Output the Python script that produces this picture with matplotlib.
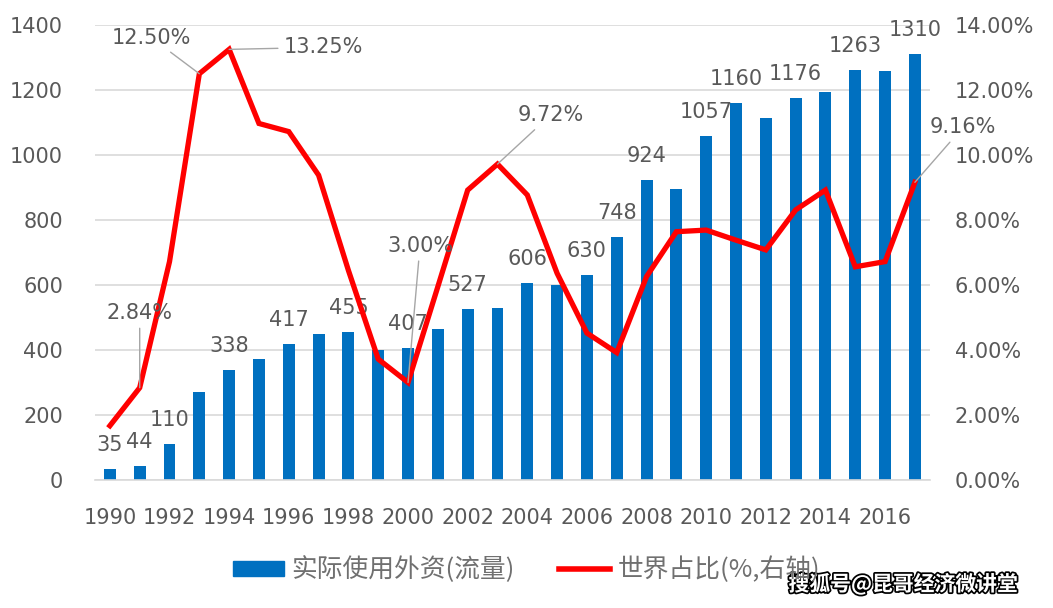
import matplotlib.pyplot as plt
import matplotlib.patheffects as pe
from matplotlib.ticker import FuncFormatter
from matplotlib.lines import Line2D
from matplotlib.patches import Patch

plt.rcParams['font.family'] = ['DejaVu Sans', 'Noto Sans CJK SC']

# data
years = list(range(1990, 2018))
fdi = [35, 44, 110, 272, 338, 371, 417, 449, 455, 400, 407, 466, 527, 530, 606, 600,
       630, 748, 924, 896, 1057, 1160, 1115, 1176, 1194, 1263, 1258, 1310]
share = [1.67, 2.84, 6.72, 12.50, 13.25, 10.97, 10.72, 9.38, 6.45, 3.72, 3.00, 5.95, 8.92, 9.72,
         8.77, 6.36, 4.52, 3.92, 6.26, 7.64, 7.69, 7.38, 7.08, 8.31, 8.92, 6.56, 6.72, 9.16]
bar_label_years = [1990, 1991, 1992, 1994, 1996, 1998, 2000, 2002, 2004, 2006, 2007, 2008,
                   2010, 2011, 2013, 2015, 2017]
# year of labelled line point -> label offset (pixels)
line_label_offsets = {1991: (0, 75), 1993: (-48, 36), 1994: (94, 2), 2000: (12, 137),
                      2003: (53, 49), 2017: (48, 55)}

txt = '#595959'
grid = '#d9d9d9'

fig = plt.figure(figsize=(10.53, 6.08), dpi=100)
ax = fig.add_axes([0.0902, 0.2105, 0.7928, 0.7484])
ax2 = ax.twinx()

ax.bar(years, fdi, width=0.4, color='#0070C0', zorder=2)
ax.set_xlim(1989.5, 2017.5)
ax.set_ylim(0, 1400)
ax.set_yticks(range(0, 1401, 200))
ax.set_xticks(range(1990, 2017, 2))
ax.grid(axis='y', color=grid, linewidth=1.2, zorder=0)
ax.set_axisbelow(True)
for s in ['top', 'left', 'right']:
    ax.spines[s].set_visible(False)
ax.spines['bottom'].set_color(grid)
ax.spines['bottom'].set_linewidth(1.2)
ax.tick_params(axis='both', length=0, labelsize=15, colors=txt)
ax.tick_params(axis='y', pad=23)
ax.tick_params(axis='x', pad=20)

for y, v in zip(years, fdi):
    if y in bar_label_years:
        ax.annotate(str(v), (y, v), xytext=(0, 14), textcoords='offset pixels',
                    ha='center', va='bottom', fontsize=15, color=txt, zorder=5)

ax2.plot(years, [s / 100 for s in share], color='#ff0000', linewidth=3.8,
         solid_joinstyle='miter', zorder=3)
ax2.set_ylim(0, 0.14)
ax2.set_yticks([i / 100 for i in range(0, 15, 2)])
ax2.yaxis.set_major_formatter(FuncFormatter(lambda v, p: '%.2f%%' % (v * 100)))
for s in ax2.spines.values():
    s.set_visible(False)
ax2.tick_params(axis='y', length=0, labelsize=15, colors=txt, pad=18)

for y, (dx, dy) in line_label_offsets.items():
    v = share[years.index(y)]
    ax2.annotate('%.2f%%' % v, (y, v / 100), xytext=(dx, dy), textcoords='offset pixels',
                 ha='center', va='center', fontsize=15, color=txt,
                 arrowprops=dict(arrowstyle='-', color='#a6a6a6', lw=1,
                                 shrinkA=2, shrinkB=0))

handles = [Patch(color='#0070C0'), Line2D([], [], color='#ff0000', linewidth=4)]
fig.legend(handles, ['实际使用外资(流量)', '世界占比(%,右轴)'], loc='center',
           bbox_to_anchor=(0.5, 0.0625), ncol=2, frameon=False,
           labelcolor='#707070', handlelength=2.0, handleheight=0.55, columnspacing=1.7,
           handletextpad=0.3, prop={'family': ['Noto Sans CJK SC'], 'size': 18.5})

fig.text(0.967, 0.04, '搜狐号@昆哥经济微讲堂', ha='right', va='center', fontsize=15,
         fontweight='bold', color='white', family=['Noto Sans CJK SC'],
         path_effects=[pe.withStroke(linewidth=2.5, foreground='black')])

fig.savefig('out.png', dpi=100)
